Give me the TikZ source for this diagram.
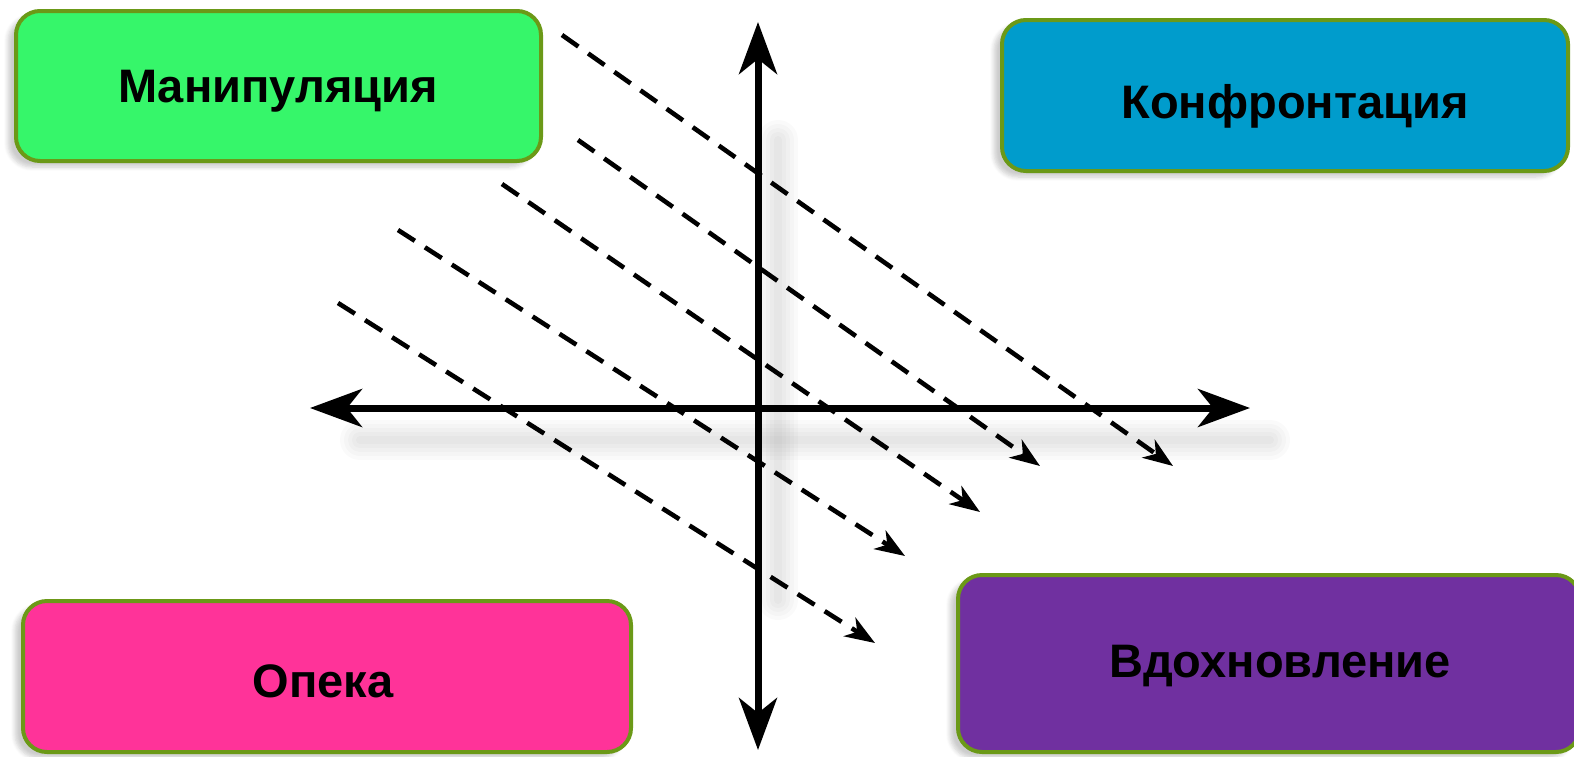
\documentclass[tikz,border=0pt]{standalone}
\usepackage{fontspec}
\setmainfont{Liberation Sans}
\usetikzlibrary{arrows.meta,shadows.blur}
\definecolor{bgreen}{RGB}{54,246,106}
\definecolor{bblue}{RGB}{0,156,204}
\definecolor{bpink}{RGB}{255,51,153}
\definecolor{bpurple}{RGB}{112,48,160}
\definecolor{bborder}{RGB}{107,153,23}
\tikzset{
  box/.style={draw=bborder, line width=2pt, rounded corners=12pt, inner sep=0pt,
    blur shadow={shadow xshift=-4pt, shadow yshift=-3pt, shadow blur steps=6, shadow opacity=20}},
  lbl/.style={font=\fontsize{23.5pt}{28pt}\selectfont\bfseries, text=black, inner sep=0pt},
  axis/.style={line width=3.5pt, {Stealth[length=26pt,width=19pt,inset=7.5pt]}-{Stealth[length=26pt,width=19pt,inset=7.5pt]}},
  flow/.style={line width=2.3pt, dash pattern=on 10pt off 6pt, -{Stealth[length=15pt,width=11pt,inset=4.5pt]}},
  axshadow/.style={line cap=round, black, opacity=0.02}
}
\begin{document}
\begin{tikzpicture}[x=0.5pt,y=-0.5pt]
\useasboundingbox (0,0) rectangle (1574,756);
% boxes
\node[box, fill=bgreen, minimum width=262.5pt, minimum height=75pt] (man) at (278.5,86) {};
\node[box, fill=bblue, minimum width=283pt, minimum height=75.5pt] (kon) at (1285,95.5) {};
\node[box, fill=bpink, minimum width=304pt, minimum height=75.5pt] (ope) at (327,676.5) {};
\node[box, fill=bpurple, minimum width=311pt, minimum height=88.5pt] (vdo) at (1269,663.5) {};
\node[lbl] (manT) at (278,91) {Манипуляция};
\node[lbl] (konT) at (1295,106) {Конфронтация};
\node[lbl] (opeT) at (323,681) {Опека};
\node[lbl] (vdoT) at (1280,666) {Вдохновление};
% axis coordinates
\coordinate (top) at (758,22);
\coordinate (bot) at (758,750);
\coordinate (lft) at (310,408);
\coordinate (rgt) at (1250,408);
% soft shadows
\foreach \w in {4,8,12,16,20}{
  \draw[axshadow, line width=\w pt] (778,140) -- (778,600);
  \draw[axshadow, line width=\w pt] (360,440) -- (1270,440);
}
% axes
\draw[axis] (lft) -- (rgt);
\draw[axis] (bot) -- (top);
% dashed arrows
\coordinate (s1) at (562,35);  \coordinate (e1) at (1173,466);
\coordinate (s2) at (578,140); \coordinate (e2) at (1040,466);
\coordinate (s3) at (502,184); \coordinate (e3) at (980,512);
\coordinate (s4) at (398,230); \coordinate (e4) at (905,556);
\coordinate (s5) at (338,303); \coordinate (e5) at (875,643);
\foreach \i in {1,...,5}{\draw[flow] (s\i) -- (e\i);}
\end{tikzpicture}
\end{document}
